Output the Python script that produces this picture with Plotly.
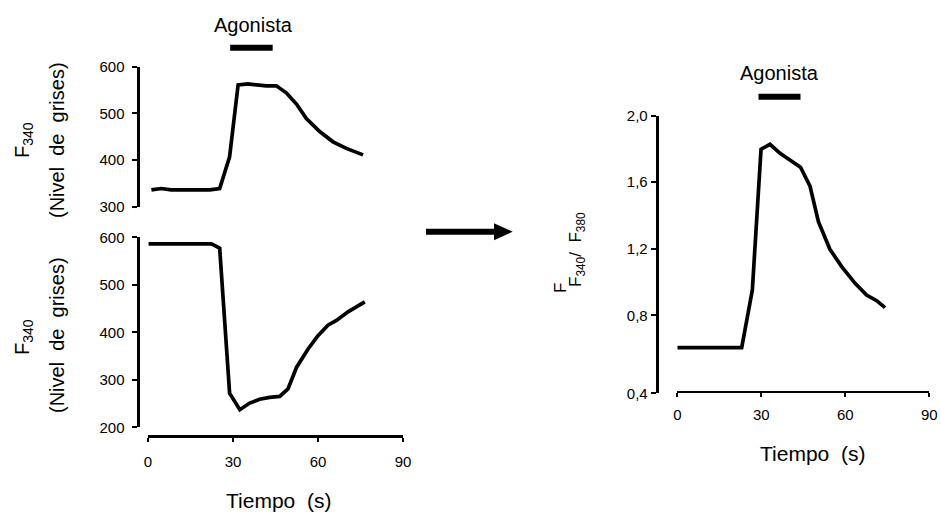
import plotly.graph_objects as go

# ---------------- data ----------------
t_top = [1.2, 4.7, 8.2, 21.8, 25.3, 28.8, 31.8, 35.3, 41.8, 45.3, 48.8, 52.4, 55.9, 60.6, 65.3, 70.0, 75.9]
f_top = [336, 339, 336, 336, 339, 407, 561, 563, 559, 559, 544, 520, 489, 461, 439, 425, 411]

t_bot = [0.2, 22.4, 25.3, 28.8, 32.4, 35.9, 39.4, 42.9, 46.5, 49.4, 52.4, 56.5, 60.0, 63.5, 66.5, 70.6, 76.5]
f_bot = [586, 586, 577, 272, 237, 251, 259, 263, 265, 281, 326, 365, 393, 415, 425, 443, 464]

t_ratio = [0, 23.0, 26.8, 29.9, 33.1, 36.7, 40.2, 44.0, 47.4, 50.4, 54.5, 58.7, 63.5, 67.6, 71.2, 74.2]
ratio = [0.606, 0.606, 0.952, 1.798, 1.828, 1.774, 1.734, 1.690, 1.577, 1.363, 1.197, 1.093, 0.992, 0.922, 0.888, 0.846]

agonist = [29, 44]          # agonist application interval (s)
x_ticks = [0, 30, 60, 90]
y_top_ticks = [300, 400, 500, 600]
y_bot_ticks = [200, 300, 400, 500, 600]
ratio_range = [0.331, 2.0]
ratio_ticks = [ratio_range[0], 0.8, 1.2, 1.6, 2.0]
ratio_ticktext = ["0,4", "0,8", "1,2", "1,6", "2,0"]

FONT = "Arial, 'Liberation Sans', sans-serif"
W, H = 941, 515
px = lambda v: v / W
py = lambda v: 1 - v / H

fig = go.Figure()
line_style = dict(color="black", width=3.7)
fig.add_trace(go.Scatter(x=t_top, y=f_top, mode="lines", line=line_style, xaxis="x", yaxis="y"))
fig.add_trace(go.Scatter(x=t_bot, y=f_bot, mode="lines", line=line_style, xaxis="x2", yaxis="y2"))
fig.add_trace(go.Scatter(x=t_ratio, y=ratio, mode="lines", line=line_style, xaxis="x3", yaxis="y3"))

tickfont = dict(family=FONT, size=15, color="black")
common_y = dict(showgrid=False, zeroline=False, showline=True, linecolor="black",
                ticks="outside", ticklen=5, tickwidth=2, tickcolor="black",
                tickfont=tickfont, anchor="free", fixedrange=True, automargin=False)
common_x = dict(showgrid=False, zeroline=False, showline=True, linecolor="black",
                ticks="outside", ticklen=4, tickwidth=2, tickcolor="black",
                tickfont=tickfont, tickvals=x_ticks, range=[0, 90], anchor="free",
                automargin=False)

left_dom = [px(148), px(403)]
fig.update_layout(
    width=W, height=H, autosize=False,
    margin=dict(l=0, r=0, t=0, b=0, pad=0, autoexpand=False),
    paper_bgcolor="white", plot_bgcolor="white",
    showlegend=False,
    font=dict(family=FONT, color="black"),
    xaxis=dict(domain=left_dom, range=[0, 90], visible=False, anchor="y"),
    yaxis=dict(domain=[py(206.7), py(66.7)], range=[300, 600], tickvals=y_top_ticks,
               position=px(137.5), linewidth=3, ticklabelstandoff=4, **common_y),
    xaxis2=dict(domain=left_dom, position=py(436), linewidth=3, ticklabelstandoff=7, **common_x),
    yaxis2=dict(domain=[py(427.3), py(237.3)], range=[200, 600], tickvals=y_bot_ticks,
                position=px(137.5), linewidth=3, ticklabelstandoff=4, **common_y),
    xaxis3=dict(domain=[px(677.3), px(929.3)], position=py(391.7), linewidth=2,
                ticklabelstandoff=5, **common_x),
    yaxis3=dict(domain=[py(393.3), py(115.7)], range=ratio_range, tickvals=ratio_ticks,
                ticktext=ratio_ticktext, position=px(656.7), linewidth=3,
                ticklabelstandoff=0, **common_y),
)

# agonist bars
fig.add_shape(type="line", xref="x", yref="paper", x0=agonist[0], x1=agonist[1],
              y0=py(47.7), y1=py(47.7), line=dict(color="black", width=6))
fig.add_shape(type="line", xref="x3", yref="paper", x0=agonist[0], x1=agonist[1],
              y0=py(96.7), y1=py(96.7), line=dict(color="black", width=6))

# arrow between panels
fig.add_shape(type="line", xref="paper", yref="paper", x0=px(426), x1=px(497),
              y0=py(231.7), y1=py(231.7), line=dict(color="black", width=6))
fig.add_shape(type="path", xref="paper", yref="paper",
              path=f"M {px(494)},{py(223.2)} L {px(512.7)},{py(231.7)} L {px(494)},{py(240.2)} Z",
              fillcolor="black", line=dict(color="black", width=0))


def a(text, x, y, size, angle=0, xref="paper"):
    fig.add_annotation(text=text, x=x, y=y, xref=xref, yref="paper", showarrow=False,
                       textangle=angle, xanchor="center", yanchor="middle",
                       font=dict(family=FONT, size=size, color="black"))


mid = sum(agonist) / 2
a("Agonista", mid + 0.8, py(25), 20, xref="x")
a("Agonista", mid, py(73), 20, xref="x3")

a("F<sub>340</sub>", px(23), py(140), 20, -90)
a("(Nivel  de  grises)", px(57), py(140), 20, -90)
a("F<sub>340</sub>", px(23), py(337), 20, -90)
a("(Nivel  de  grises)", px(57), py(335), 20, -90)

a("Tiempo  (s)", px(278), py(500), 21)
a("Tiempo  (s)", px(812), py(453), 21)

a("F", px(560), py(288), 17, -90)
a("F<sub>340</sub>/  F<sub>380</sub>", px(577), py(250), 17, -90)

fig.write_html(
    "out.html",
    config={"responsive": False, "displayModeBar": False, "staticPlot": True},
    post_script="document.body.style.margin='0';document.body.style.overflow='hidden';",
)
